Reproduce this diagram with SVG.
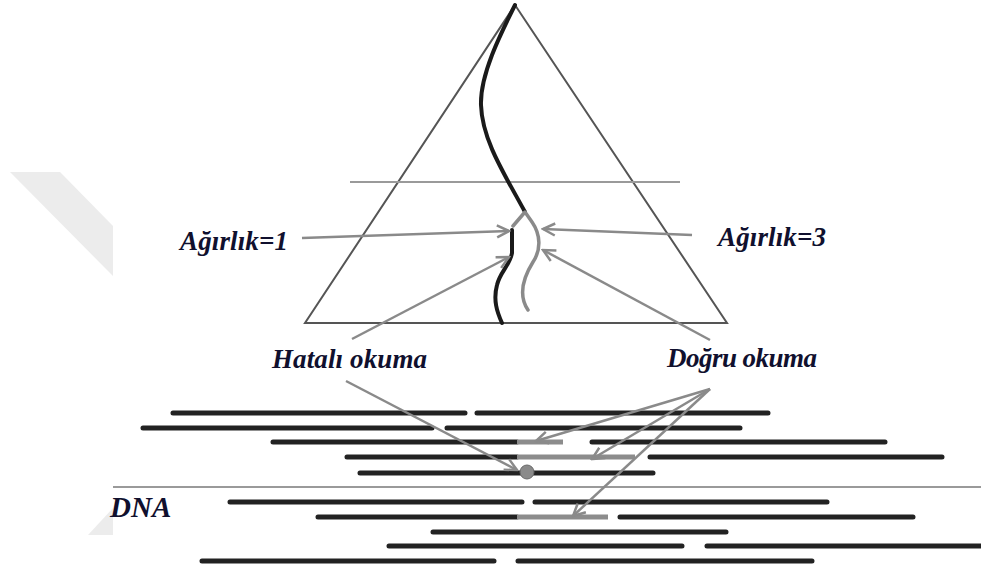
<svg xmlns="http://www.w3.org/2000/svg" width="981" height="569" viewBox="0 0 981 569">
<defs>
<style>
.lbl{font-family:"Liberation Serif","Times New Roman",serif;font-weight:bold;font-style:italic;font-size:27px;fill:#10102e}
.bar{stroke:#222;stroke-width:5;stroke-linecap:round;fill:none}
.gbar{stroke:#8c8c8c;stroke-width:5;fill:none}
.arr{stroke:#8a8a8a;stroke-width:2.5;fill:none;marker-end:url(#ah)}
.tri{stroke:#555;stroke-width:2;fill:none}
</style>
<marker id="ah" markerUnits="userSpaceOnUse" markerWidth="16" markerHeight="16" viewBox="0 0 16 16" refX="14" refY="8" orient="auto">
<path d="M2,2 L14,8 L2,14" fill="none" stroke="#8a8a8a" stroke-width="2.5"/>
</marker>
</defs>
<rect width="981" height="569" fill="#fff"/>
<g id="watermark" fill="#ececec">
<polygon points="10,172 60,172 113,226 113,276"/>
<polygon points="113,508 113,535 88,535"/>
</g>
<g id="triangle">
<polygon class="tri" points="515,5 305,323 727,323"/>
<line x1="350" y1="182" x2="680" y2="182" stroke="#9a9a9a" stroke-width="2"/>
</g>
<g id="paths">
<path d="M515,5 C500,35 480,75 481,105 C482,140 505,175 525,212" stroke="#1a1a1a" stroke-width="4" fill="none" stroke-linecap="round"/>
<path d="M513,226 L525,212 L532,222 C541,235 541,250 533,262 C523,278 518,295 528,310" stroke="#8a8a8a" stroke-width="3.5" fill="none" stroke-linecap="round" stroke-linejoin="round"/>
<path d="M512,230 L512,253 C510,265 500,272 497,285 C493,300 497,312 502,323" stroke="#1a1a1a" stroke-width="4" fill="none" stroke-linecap="round"/>
</g>
<g id="reads">
<line x1="113" y1="487" x2="981" y2="487" stroke="#9a9a9a" stroke-width="2"/>
<path class="bar" d="M173,413 H465 M477,413 H768 M143,428 H432 M447,428 H740 M273,442 H517 M592,442 H885 M347,457 H517 M650,457 H942 M360,473 H653 M230,502 H522 M535,502 H827 M318,517 H517 M620,517 H913 M433,532 H726 M389,546 H682 M707,546 H983 M202,561 H494 M518,561 H812"/>
<path class="gbar" d="M517,442 H563 M517,457 H635 M517,517 H608"/>
<circle id="error" cx="527" cy="472" r="7" fill="#8a8a8a" stroke="#6a6a6a" stroke-width="1"/>
</g>
<g id="connectors">
<line class="arr" x1="302" y1="238" x2="509" y2="231"/>
<line class="arr" x1="692" y1="235" x2="543" y2="229"/>
<line class="arr" x1="352" y1="339" x2="509" y2="257"/>
<line class="arr" x1="710" y1="340" x2="543" y2="250"/>
<line class="arr" x1="346" y1="381" x2="517" y2="470"/>
<line class="arr" x1="710" y1="389" x2="536" y2="441"/>
<line class="arr" x1="710" y1="389" x2="592" y2="459"/>
<line class="arr" x1="710" y1="389" x2="573" y2="516"/>
</g>
<g id="label-w1"><text class="lbl" x="180" y="250" textLength="108" lengthAdjust="spacing">Ağırlık=1</text></g>
<g id="label-w3"><text class="lbl" x="718" y="246" textLength="108" lengthAdjust="spacing">Ağırlık=3</text></g>
<g id="label-hatali"><text class="lbl" x="272" y="368" textLength="155" lengthAdjust="spacing">Hatalı okuma</text></g>
<g id="label-dogru"><text class="lbl" x="667" y="367" textLength="150" lengthAdjust="spacing">Doğru okuma</text></g>
<g id="label-dna"><text class="lbl" x="110" y="517" style="font-size:29px">DNA</text></g>
</svg>
